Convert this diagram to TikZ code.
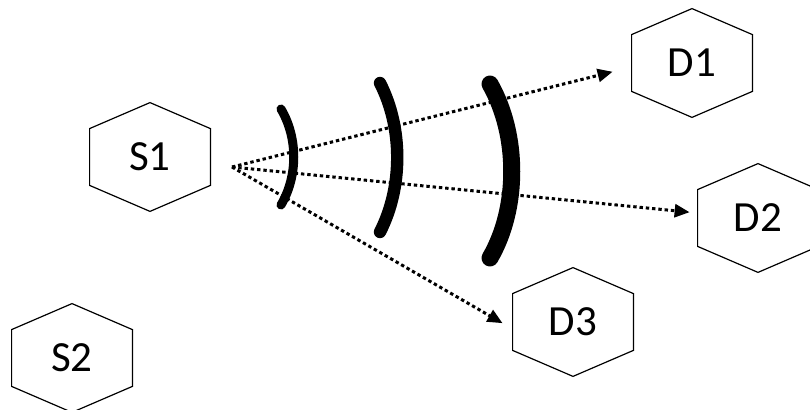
\documentclass[tikz,border=0pt]{standalone}
\usepackage{fontspec}
\setmainfont{Carlito}
\usetikzlibrary{arrows.meta}
\tikzstyle{cell} = [rectangle, minimum width = 60pt, minimum height = 54pt, inner sep = 0pt, text centered, font = \fontsize{21.5}{24}\selectfont]
\tikzstyle{hexline} = [draw = black, line width = 0.6pt, line join = miter]
\tikzstyle{beam} = [line width = 1.5pt, dash pattern = on 1.7pt off 1.45pt, -{Triangle[length = 7.5pt, width = 6.5pt]}]
\tikzstyle{wave} = [line cap = round]

\begin{document}
\begin{tikzpicture}[x = 0.5pt, y = -0.5pt]
        \useasboundingbox (0,0) rectangle (810,410);
        \node (s1) [cell] at (150,157) {S1};
        \node (s2) [cell] at (72,358) {S2};
        \node (d1) [cell] at (692,63) {D1};
        \node (d2) [cell] at (758,218) {D2};
        \node (d3) [cell] at (573,322) {D3};
        \foreach \n in {s1,s2,d1,d2,d3}
            \draw [hexline] (\n.north) -- ([yshift=-13pt]\n.north east) -- ([yshift=13pt]\n.south east)
                -- (\n.south) -- ([yshift=13pt]\n.south west) -- ([yshift=-13pt]\n.north west) -- cycle;
        \coordinate (src) at (232,167);
        \draw [beam, shorten >= 9.8pt] (src) -- ([yshift=-2pt]d1.west);
        \draw [beam, shorten >= 4pt] (src) -- ([yshift=2.5pt]d2.west);
        \draw [beam, shorten >= 5.8pt] (src) -- ([yshift=-3.5pt]d3.west);
        \draw [wave, line width = 4.5pt] (281,109) .. controls (298,138) and (298,176) .. (281,205);
        \draw [wave, line width = 6.2pt] (380,83) .. controls (403,128) and (403,187) .. (380,232);
        \draw [wave, line width = 8.5pt] (490,84) .. controls (519,135) and (519,208) .. (490,258);
\end{tikzpicture}
\end{document}
